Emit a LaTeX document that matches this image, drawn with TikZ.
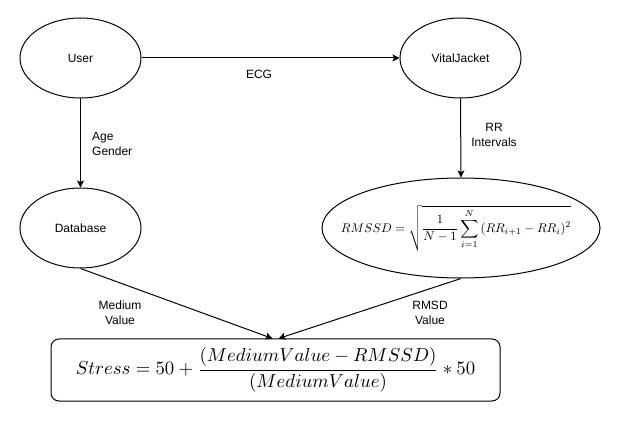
\documentclass[tikz,border=0pt]{standalone}
\usepackage[no-math]{fontspec}
\usepackage{graphicx}
\newfontfamily\dfont{Liberation Sans}
\usetikzlibrary{shapes.geometric,arrows.meta}
\tikzset{
  ell/.style={draw, ellipse, line width=1pt, inner sep=0pt, font=\dfont\fontsize{12}{15}\selectfont},
  lbl/.style={font=\dfont\fontsize{12}{15}\selectfont, inner sep=0pt, align=center},
  conn/.style={line width=1pt, -{Stealth[length=7pt,width=7pt,inset=1.5pt]}},
  formulabox/.style={draw, line width=1pt, rounded corners=8pt, minimum width=449pt, minimum height=62pt, inner sep=0pt}
}
\begin{document}
\begin{tikzpicture}[x=1pt,y=-1pt]
\useasboundingbox (0,0) rectangle (619,422);
\node[ell, minimum width=121pt, minimum height=80pt] (user) at (80.5,58) {User};
\node[ell, minimum width=121pt, minimum height=80pt] (vj) at (460.5,58) {VitalJacket};
\node[ell, minimum width=121pt, minimum height=80pt] (db) at (80.5,228) {Database};
\node[ell, minimum width=278pt, minimum height=100pt] (rm) at (461,228) {};
\node[inner sep=0pt] (rmf) at ([xshift=-5pt]rm.center) {\scalebox{1.26}{$RMSSD = \sqrt{\displaystyle\frac{1}{N-1}\sum_{i=1}^{N}\,(RR_{i+1}-RR_i)^2}$}};
\node[formulabox] (box) at (275.5,370) {\scalebox{1.88}{$\displaystyle Stress = 50 + \frac{(MediumValue - RMSSD)}{(MediumValue)} * 50$}};
\draw[conn] (user.east) -- (vj.west);
\draw[conn] (user.south) -- (db.north);
\draw[conn] (vj.south) -- (rm.north);
\draw[conn] (db.south) -- ([xshift=-3pt]box.north);
\draw[conn] (rm.south) -- ([xshift=3pt]box.north);
\node[lbl] (lecg) at (259,74) {ECG};
\node[lbl, anchor=west, align=left] (lage) at (92,144) {Age\\Gender};
\node[lbl] (lrr) at (494,135) {RR\\Intervals};
\node[lbl] (lmv) at (120,313) {Medium\\Value};
\node[lbl] (lrv) at (430,313) {RMSD\\Value};
\end{tikzpicture}
\end{document}
